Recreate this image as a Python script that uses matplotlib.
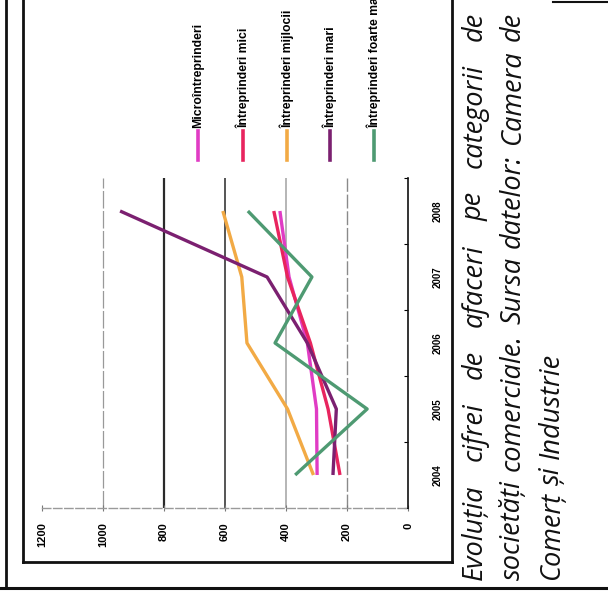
import matplotlib
matplotlib.use("Agg")
import matplotlib.pyplot as plt
from matplotlib.lines import Line2D

years = [2004, 2005, 2006, 2007, 2008]
micro = [298, 300, 330, 390, 420]
mici = [223, 262, 320, 395, 440]
mijlocii = [310, 395, 528, 545, 607]
mari = [246, 235, 330, 462, 944]
foarte_mari = [370, 134, 436, 315, 525]

series = [micro, mici, mijlocii, mari, foarte_mari]
names = ["Microîntreprinderi", "Întreprinderi mici", "Întreprinderi mijlocii",
         "Întreprinderi mari", "Întreprinderi foarte mari"]
colors = ["#e03cc4", "#e8245e", "#f2aa45", "#7b2070", "#4e9a72"]
value_ticks = [0, 200, 400, 600, 800, 1000, 1200]

caption_lines = [
    "Evoluția cifrei de afaceri pe categorii de",
    "societăți comerciale. Sursa datelor: Camera de",
    "Comerț și Industrie",
]

W, H = 608, 595


def fx(x):
    return x / W


def fy(y):
    return 1 - y / H


fig = plt.figure(figsize=(W / 100, H / 100), dpi=100)

# plot area: value axis runs right->left, years run bottom->top
ax = fig.add_axes([fx(42), fy(508), (408 - 42) / W, (508 - 178) / H])
ax.set_xlim(1200, 0)
ax.set_ylim(2003.5, 2008.5)

for vals, c in zip(series, colors):
    ax.plot(vals, years, color=c, lw=2.4, solid_capstyle="butt", zorder=3)

# gridlines with the uneven tones of the scan
ax.set_xticks(value_ticks)
ax.xaxis.grid(True)
grid_style = {0: ("#ffffff", 0, "-"), 200: ("#8a8a8a", 1.0, (0, (10, 2))),
              400: ("#b5b5b5", 1.4, "-"), 600: ("#555555", 1.4, "-"),
              800: ("#2a2a2a", 1.6, "-"), 1000: ("#999999", 0.9, (0, (14, 2))),
              1200: ("#ffffff", 0, "-")}
for v, gl in zip(value_ticks, ax.get_xgridlines()):
    c, lw, ls = grid_style[v]
    gl.set_color(c)
    gl.set_linewidth(lw)
    gl.set_linestyle(ls)
    gl.set_zorder(1)

ax.set_xticklabels([str(v) for v in value_ticks], rotation=90,
                   fontsize=8, fontweight="bold", family="Liberation Sans")
ax.tick_params(axis="x", direction="inout", length=5, width=0.8,
               color="#777777", pad=8)

# category axis on the right, ticks between the years
ax.yaxis.tick_right()
ax.set_yticks([2003.5, 2004.5, 2005.5, 2006.5, 2007.5, 2008.5])
ax.set_yticklabels([])
ax.set_yticks(years, minor=True)
ax.set_yticklabels([str(y) for y in years], minor=True, rotation=90,
                   va="center", ha="left", fontsize=7, fontweight="bold",
                   family="Liberation Sans")
ax.tick_params(axis="y", which="major", direction="in", length=3, width=0.8)
ax.tick_params(axis="y", which="minor", length=0, pad=18)

for s in ["top", "left"]:
    ax.spines[s].set_visible(False)
ax.spines["right"].set_color("#111111")
ax.spines["right"].set_linewidth(1.2)
ax.spines["bottom"].set_color("#9a9a9a")
ax.spines["bottom"].set_linestyle((0, (6, 2)))
ax.spines["bottom"].set_linewidth(1.0)

# legend, drawn rotated like the rest of the scan
leg_x = [198, 243, 287, 330, 374]
for x, name, c in zip(leg_x, names, colors):
    fig.add_artist(Line2D([fx(x), fx(x)], [fy(160), fy(131)], color=c,
                          lw=2.6, transform=fig.transFigure))
    fig.text(fx(x), fy(128), name, rotation=90, ha="center", va="bottom",
             fontsize=8.8, fontweight="bold", family="Liberation Sans")

# frames
frame = [
    ([23, 23], [0, 562], 2.0),
    ([23, 452], [562, 562], 2.0),
    ([452, 452], [0, 562], 2.0),
    ([6, 6], [0, 588], 2.0),
    ([0, 608], [588, 588], 2.2),
    ([553, 608], [2, 2], 1.5),
]
for xs, ys, lw in frame:
    fig.add_artist(Line2D([fx(v) for v in xs], [fy(v) for v in ys],
                          color="#111111", lw=lw, transform=fig.transFigure))

# caption, rotated and justified between y=580 and y=12
cap_x = [475, 513, 552]
cap_size = 19.5
fig.canvas.draw()
r = fig.canvas.get_renderer()
sp = fig.text(0, 0, "a a", fontsize=cap_size, family="Open Sans", style="italic")
sp2 = fig.text(0, 0, "aa", fontsize=cap_size, family="Open Sans", style="italic")
space = sp.get_window_extent(r).width - sp2.get_window_extent(r).width
sp.remove()
sp2.remove()
for i, (line, x) in enumerate(zip(caption_lines, cap_x)):
    words = line.split(" ")
    texts = [fig.text(fx(x), fy(580), w, rotation=90, ha="center",
                      va="bottom", fontsize=cap_size, style="italic",
                      family="Open Sans", color="#111111") for w in words]
    lens = [t.get_window_extent(r).height for t in texts]
    if i < len(caption_lines) - 1:
        gap = max(space, (580 - 12 - sum(lens)) / (len(words) - 1))
    else:
        gap = space
    y = 580
    for t, L in zip(texts, lens):
        t.set_position((fx(x), fy(y)))
        y -= L + gap

fig.savefig("out.png", dpi=100)
